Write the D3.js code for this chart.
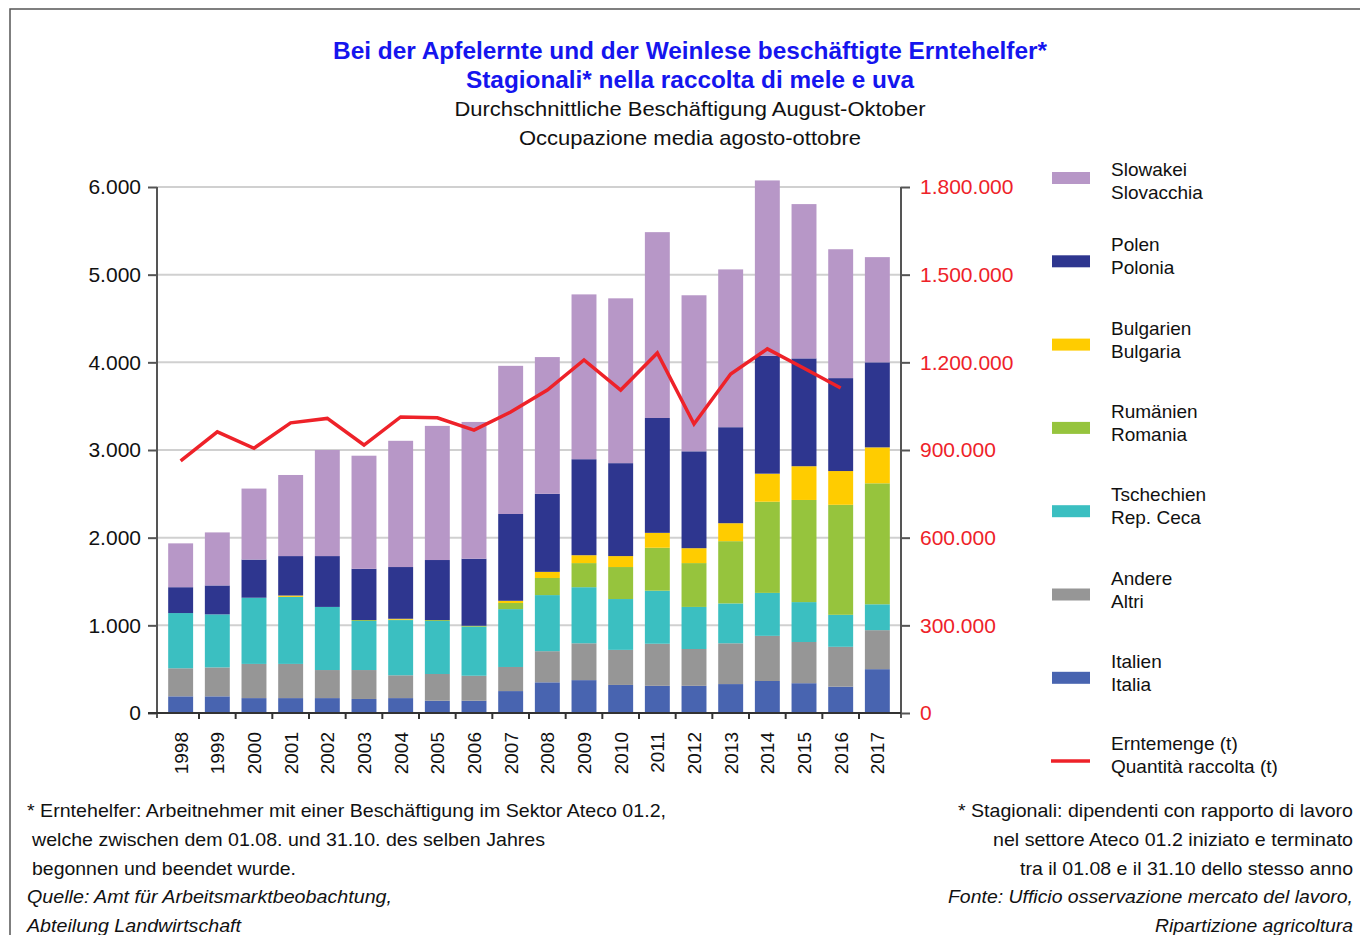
<html>
<head>
  <script src="https://d3js.org/d3.v7.min.js"></script>
  <style>
    body { margin: 0; background: #fff; }
    text { font-family: "Liberation Sans", Arial, sans-serif; }
  </style>
</head>
<body>
<svg></svg>
<script>
  // data
  const years = ["1998","1999","2000","2001","2002","2003","2004","2005","2006","2007",
                 "2008","2009","2010","2011","2012","2013","2014","2015","2016","2017"];
  const italia     = [190, 190, 170, 170, 170, 160, 170, 140, 140, 250, 350, 375, 320, 310, 310, 330, 365, 340, 300, 500];
  const altri      = [320, 330, 390, 390, 320, 330, 260, 305, 285, 275, 355, 420, 400, 480, 420, 465, 515, 470, 455, 445];
  const ceca       = [630, 605, 755, 765, 720, 560, 630, 605, 560, 660, 640, 640, 580, 605, 480, 455, 490, 455, 365, 295];
  const romania    = [0, 0, 0, 0, 0, 10, 5, 10, 10, 70, 195, 275, 365, 490, 500, 710, 1040, 1165, 1255, 1380];
  const bulgaria   = [0, 0, 0, 15, 0, 0, 10, 0, 0, 25, 70, 90, 125, 170, 170, 205, 320, 385, 385, 410];
  const polonia    = [295, 330, 435, 450, 580, 585, 590, 685, 765, 990, 890, 1095, 1060, 1310, 1105, 1095, 1345, 1230, 1060, 970];
  const slovacchia = [500, 605, 810, 925, 1210, 1290, 1440, 1530, 1560, 1690, 1560, 1880, 1880, 2120, 1780, 1800, 2000, 1760, 1470, 1200];
  const raccolta   = [863000, 962000, 906000, 993000, 1008000, 917000, 1013000, 1010000, 968000, 1030000,
                      1105000, 1208000, 1105000, 1232000, 989000, 1160000, 1246000, 1180000, 1112000, null];

  const leftTicks  = [0, 1000, 2000, 3000, 4000, 5000, 6000];
  const rightTicks = [0, 300000, 600000, 900000, 1200000, 1500000, 1800000];

  // stack order bottom -> top
  const series = [
    { key: "italia",     de: "Italien",    it: "Italia",      color: "#4864b0", values: italia },
    { key: "altri",      de: "Andere",     it: "Altri",       color: "#969696", values: altri },
    { key: "ceca",       de: "Tschechien", it: "Rep. Ceca",   color: "#3bbfc1", values: ceca },
    { key: "romania",    de: "Rumänien",   it: "Romania",     color: "#96c43d", values: romania },
    { key: "bulgaria",   de: "Bulgarien",  it: "Bulgaria",    color: "#ffcc00", values: bulgaria },
    { key: "polonia",    de: "Polen",      it: "Polonia",     color: "#2e368f", values: polonia },
    { key: "slovacchia", de: "Slowakei",   it: "Slovacchia",  color: "#b797c7", values: slovacchia }
  ];

  const W = 1360, H = 935;
  const plotLeft = 157, plotRight = 901, plotTop = 187, plotBottom = 713;

  const svg = d3.select("svg").attr("width", W).attr("height", H);

  const fmt = d3.formatLocale({ decimal: ",", thousands: ".", grouping: [3], currency: ["", ""] }).format(",.0f");

  // frame
  svg.append("rect").attr("x", 10).attr("y", 9).attr("width", W).attr("height", H)
    .attr("fill", "none").attr("stroke", "#555").attr("stroke-width", 1.5);

  const x = d3.scaleBand().domain(years).range([plotLeft, plotRight]).paddingInner(0.32).paddingOuter(0.305);
  const y = d3.scaleLinear().domain([0, 6000]).range([plotBottom, plotTop]);
  const y2 = d3.scaleLinear().domain([0, 1800000]).range([plotBottom, plotTop]);

  // grid
  svg.append("g").selectAll("line").data(leftTicks.slice(1)).join("line")
    .attr("x1", plotLeft).attr("x2", plotRight).attr("y1", d => y(d)).attr("y2", d => y(d))
    .attr("stroke", "#d0d0d0").attr("stroke-width", 2);

  // stacked bars
  const table = years.map((yr, i) => {
    const row = { year: yr };
    series.forEach(s => row[s.key] = s.values[i]);
    return row;
  });
  const stacked = d3.stack().keys(series.map(s => s.key))(table);

  svg.append("g").selectAll("g").data(stacked).join("g")
    .attr("fill", (d, i) => series[i].color)
    .selectAll("rect").data(d => d).join("rect")
    .attr("x", d => x(d.data.year))
    .attr("width", x.bandwidth())
    .attr("y", d => y(d[1]))
    .attr("height", d => y(d[0]) - y(d[1]));

  // left axis
  const gl = svg.append("g").attr("transform", "translate(" + plotLeft + ",0)")
    .call(d3.axisLeft(y).tickValues(leftTicks).tickFormat(fmt).tickSize(9).tickPadding(7));
  gl.select(".domain").attr("stroke", "#555").attr("stroke-width", 2).attr("d", "M0," + (plotBottom + 5) + "V" + plotTop);
  gl.selectAll(".tick line").attr("stroke", "#555").attr("stroke-width", 2);
  gl.selectAll(".tick text").attr("font-size", 21).attr("fill", "#111")
    .style("font-family", "'Liberation Sans', Arial, sans-serif");

  // right axis
  const gr = svg.append("g").attr("transform", "translate(" + plotRight + ",0)")
    .call(d3.axisRight(y2).tickValues(rightTicks).tickFormat(fmt).tickSize(9).tickPadding(10));
  gr.select(".domain").attr("stroke", "#555").attr("stroke-width", 2).attr("d", "M0," + (plotBottom + 5) + "V" + plotTop);
  gr.selectAll(".tick line").attr("stroke", "#555").attr("stroke-width", 2);
  gr.selectAll(".tick text").attr("font-size", 21).attr("fill", "#ee2229")
    .style("font-family", "'Liberation Sans', Arial, sans-serif");

  // x axis
  svg.append("line").attr("x1", plotLeft - 9).attr("x2", plotRight).attr("y1", plotBottom).attr("y2", plotBottom)
    .attr("stroke", "#333").attr("stroke-width", 2);
  const half = x.step() * x.paddingInner() / 2;
  svg.append("g").selectAll("line").data(years.slice(0, -1)).join("line")
    .attr("x1", d => x(d) + x.bandwidth() + half).attr("x2", d => x(d) + x.bandwidth() + half)
    .attr("y1", plotBottom).attr("y2", plotBottom + 6)
    .attr("stroke", "#333").attr("stroke-width", 2);
  svg.append("g").selectAll("text").data(years).join("text")
    .attr("transform", d => "translate(" + (x(d) + x.bandwidth() / 2 + 7) + "," + (plotBottom + 19) + ") rotate(-90)")
    .attr("text-anchor", "end").attr("font-size", 19).attr("fill", "#111")
    .text(d => d);

  // harvest line
  const line = d3.line()
    .defined(d => d != null)
    .x((d, i) => x(years[i]) + x.bandwidth() / 2)
    .y(d => y2(d));
  svg.append("path").datum(raccolta)
    .attr("fill", "none").attr("stroke", "#ee2229").attr("stroke-width", 3.5)
    .attr("stroke-linejoin", "miter")
    .attr("d", line);

  // titles
  const titles = [
    { t: "Bei der Apfelernte und der Weinlese beschäftigte Erntehelfer*", y: 59, size: 24, bold: true, len: 714 },
    { t: "Stagionali* nella raccolta di mele e uva", y: 88, size: 24, bold: true, len: 448 },
    { t: "Durchschnittliche Beschäftigung August-Oktober", y: 116, size: 21, bold: false, len: 471 },
    { t: "Occupazione media agosto-ottobre", y: 145, size: 21, bold: false, len: 342 }
  ];
  svg.append("g").selectAll("text").data(titles).join("text")
    .attr("x", 690).attr("y", d => d.y).attr("text-anchor", "middle")
    .attr("font-size", d => d.size)
    .attr("font-weight", d => d.bold ? "bold" : "normal")
    .attr("fill", d => d.bold ? "#1515ee" : "#111")
    .attr("textLength", d => d.len).attr("lengthAdjust", "spacingAndGlyphs")
    .text(d => d.t);

  // legend (top -> bottom)
  const legendItems = series.slice().reverse();
  const lg = svg.append("g");
  legendItems.forEach((s, i) => {
    const cy = 178 + i * 83.3;
    const shift = i === 0 ? 0 : -8;
    lg.append("rect").attr("x", 1052).attr("y", cy - 6).attr("width", 38).attr("height", 12).attr("fill", s.color);
    lg.append("text").attr("x", 1111).attr("y", cy - 2 + shift).attr("font-size", 19).attr("fill", "#111").text(s.de);
    lg.append("text").attr("x", 1111).attr("y", cy + 21 + shift).attr("font-size", 19).attr("fill", "#111").text(s.it);
  });
  const ly = 178 + 7 * 83.3;
  lg.append("line").attr("x1", 1051).attr("x2", 1090).attr("y1", ly).attr("y2", ly)
    .attr("stroke", "#ee2229").attr("stroke-width", 3.5);
  lg.append("text").attr("x", 1111).attr("y", ly - 11).attr("font-size", 19).attr("fill", "#111").text("Erntemenge (t)");
  lg.append("text").attr("x", 1111).attr("y", ly + 12).attr("font-size", 19).attr("fill", "#111").text("Quantità raccolta (t)");

  // footnotes
  const notesDe = [
    { t: "* Erntehelfer: Arbeitnehmer mit einer Beschäftigung im Sektor Ateco 01.2,", x: 27, len: 639, it: false },
    { t: "welche zwischen dem 01.08. und 31.10. des selben Jahres", x: 32, len: 513, it: false },
    { t: "begonnen und beendet wurde.", x: 32, len: 264, it: false },
    { t: "Quelle: Amt für Arbeitsmarktbeobachtung,", x: 27, len: 365, it: true },
    { t: "Abteilung Landwirtschaft", x: 27, len: 214, it: true }
  ];
  const notesIt = [
    { t: "* Stagionali: dipendenti con rapporto di lavoro", len: 395, it: false },
    { t: "nel settore Ateco 01.2 iniziato e terminato", len: 360, it: false },
    { t: "tra il 01.08 e il 31.10 dello stesso anno", len: 333, it: false },
    { t: "Fonte: Ufficio osservazione mercato del lavoro,", len: 405, it: true },
    { t: "Ripartizione agricoltura", len: 198, it: true }
  ];
  svg.append("g").selectAll("text").data(notesDe).join("text")
    .attr("x", d => d.x).attr("y", (d, i) => 817 + i * 28.8)
    .attr("font-size", 19).attr("fill", "#111")
    .attr("font-style", d => d.it ? "italic" : "normal")
    .attr("textLength", d => d.len).attr("lengthAdjust", "spacingAndGlyphs")
    .text(d => d.t);
  svg.append("g").selectAll("text").data(notesIt).join("text")
    .attr("x", d => 1353 - d.len).attr("y", (d, i) => 817 + i * 28.8)
    .attr("font-size", 19).attr("fill", "#111")
    .attr("font-style", d => d.it ? "italic" : "normal")
    .attr("textLength", d => d.len).attr("lengthAdjust", "spacingAndGlyphs")
    .text(d => d.t);
</script>
</body>
</html>
